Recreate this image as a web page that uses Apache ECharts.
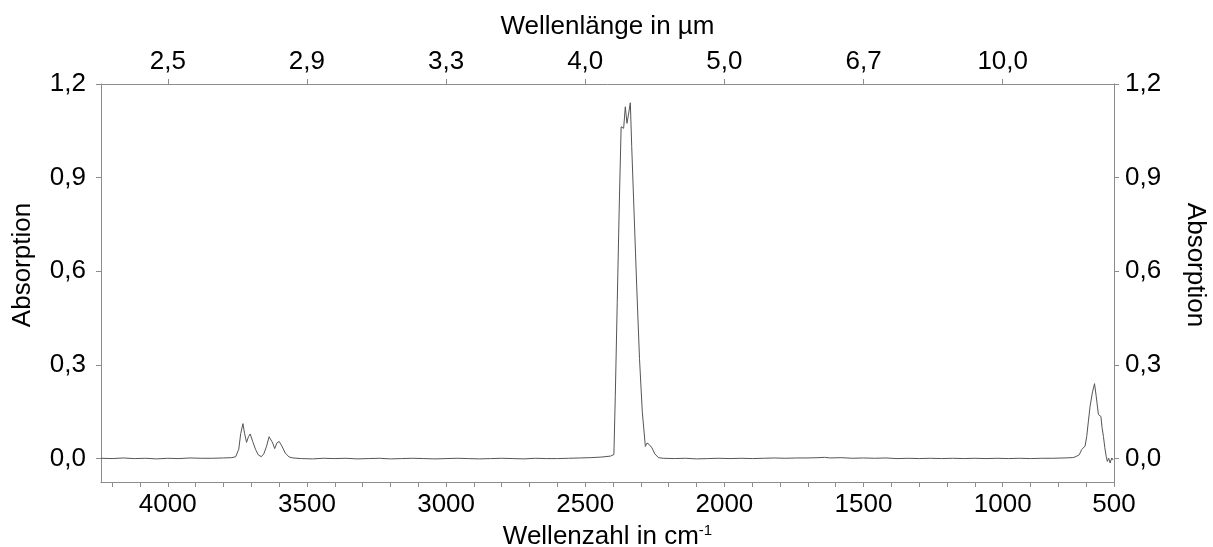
<!DOCTYPE html>
<html>
<head>
<meta charset="utf-8">
<title>Absorptionsspektrum</title>
<script src="https://cdn.jsdelivr.net/npm/echarts@6/dist/echarts.min.js"></script>
<style>
  html, body { margin: 0; padding: 0; background: #fff; }
  #chart { width: 1213px; height: 547px; }
</style>
</head>
<body>
<div id="chart"></div>
<script>
// Wellenzahl (cm-1) und Absorption
const wavenumber = [
  4240, 4200, 4160, 4120, 4080, 4040, 4000, 3960, 3920, 3880, 3840, 3800, 3770,
  3756, 3745, 3738, 3730, 3724, 3717, 3710, 3704, 3695, 3685, 3675, 3664,
  3655, 3645, 3636, 3630, 3623, 3616, 3608, 3600, 3590, 3578, 3564, 3550, 3520,
  3480, 3440, 3400, 3360, 3320, 3280, 3240, 3200, 3160, 3120, 3080, 3040, 3000,
  2960, 2920, 2880, 2840, 2800, 2760, 2720, 2680, 2640, 2600, 2560, 2520, 2480,
  2440, 2409,
  2397, 2392, 2385, 2378, 2371, 2366, 2362, 2356, 2350, 2345, 2338, 2333, 2325,
  2315, 2305, 2295, 2284, 2278, 2270, 2260, 2250, 2237, 2220,
  2180, 2140, 2100, 2060, 2020, 1980, 1940, 1900, 1860, 1820, 1780, 1740, 1700,
  1660, 1640, 1620, 1580, 1540, 1500, 1460, 1420, 1380, 1340, 1300, 1260, 1220,
  1180, 1140, 1100, 1060, 1020, 980, 940, 900, 860, 820, 780, 750,
  740, 725, 716, 710, 704, 698, 692, 686, 678, 670, 664, 656, 647, 643, 638,
  633, 628, 624, 619, 614, 608, 603
];
const absorption = [
  0.001, 0.000, 0.002, 0.000, 0.001, -0.001, 0.001, 0.000, 0.002, 0.001, 0.001, 0.002, 0.003,
  0.006, 0.030, 0.080, 0.112, 0.080, 0.052, 0.070, 0.079, 0.055, 0.030, 0.012, 0.006,
  0.015, 0.040, 0.070, 0.075, 0.050, 0.032, 0.050, 0.055, 0.040, 0.018, 0.005, 0.002, 0.000,
  -0.001, 0.001, 0.000, 0.001, -0.001, 0.000, 0.001, -0.001, 0.000, 0.001, 0.000, -0.001, 0.000,
  0.001, 0.000, -0.001, 0.000, 0.001, 0.000, -0.001, 0.001, 0.000, 0.000, 0.001, 0.002, 0.003,
  0.005, 0.008,
  0.013, 0.200, 0.500, 0.800, 1.063, 1.062, 1.058, 1.127, 1.074, 1.100, 1.140, 1.000, 0.800,
  0.550, 0.320, 0.150, 0.039, 0.050, 0.045, 0.034, 0.015, 0.003, 0.001,
  0.000, 0.001, -0.001, 0.000, 0.001, 0.000, 0.001, 0.000, 0.001, 0.002, 0.001, 0.002, 0.002,
  0.003, 0.004, 0.002, 0.003, 0.001, 0.002, 0.001, 0.002, 0.000, 0.001, 0.000, 0.001, 0.000,
  0.001, 0.000, 0.001, 0.000, 0.001, 0.000, 0.001, 0.000, 0.001, 0.001, 0.002, 0.003,
  0.005, 0.012, 0.029, 0.023, 0.040, 0.071, 0.120, 0.167, 0.210, 0.240, 0.200, 0.141, 0.135, 0.100, 0.071,
  0.035, 0.007, -0.009, 0.001, -0.014, 0.002, -0.005
];

// Achsenbeschriftungen
const bottomTickPos = [4000, 3500, 3000, 2500, 2000, 1500, 1000, 600];
const bottomTickLabels = ["4000", "3500", "3000", "2500", "2000", "1500", "1000", "500"];
const topTickPos = [4000, 3500, 3000, 2500, 2000, 1500, 1000];
const topTickLabels = ["2,5", "2,9", "3,3", "4,0", "5,0", "6,7", "10,0"];
const yTicks = [0, 0.3, 0.6, 0.9, 1.2];

const xMin = 600;
const xMax = 4240;
const yMin = -0.075;
const yMax = 1.2;

const minorTicks = [];
for (let v = 4200; v >= 600; v -= 100) minorTicks.push(v);

const axisColor = "#8c8c8c";
const fontFamily = "'Liberation Sans', Arial, sans-serif";
const fontSize = 26;

const chart = echarts.init(document.getElementById("chart"));

const labelFor = (pos, labels) => (value) => {
  const i = pos.findIndex((p) => Math.abs(p - value) < 1e-6);
  return i >= 0 ? labels[i] : "";
};
const commaFmt = (v) => v.toFixed(1).replace(".", ",");

const textStyle = { color: "#000", fontSize: fontSize, fontFamily: fontFamily };

const option = {
  animation: false,
  backgroundColor: "#fff",
  grid: {
    left: 101,
    right: 99,
    top: 84,
    bottom: 65,
    outerBoundsMode: "none",
  },
  xAxis: [
    {
      type: "value",
      position: "bottom",
      inverse: true,
      min: xMin,
      max: xMax,
      name: "Wellenzahl in cm{sup|-1}",
      nameLocation: "middle",
      nameGap: 36,
      nameTextStyle: {
        ...textStyle,
        rich: {
          sup: { fontSize: 15, verticalAlign: "top", padding: [0, 0, 12, 0], fontFamily: fontFamily, color: "#000" },
        },
      },
      axisLine: { show: true, onZero: false, lineStyle: { color: axisColor, width: 1 } },
      axisTick: {
        show: true,
        inside: false,
        length: 5,
        customValues: minorTicks,
        lineStyle: { color: axisColor },
      },
      axisLabel: {
        ...textStyle,
        customValues: bottomTickPos,
        formatter: labelFor(bottomTickPos, bottomTickLabels),
        margin: 10,
      },
      splitLine: { show: false },
    },
    {
      type: "value",
      position: "top",
      inverse: true,
      min: xMin,
      max: xMax,
      name: "Wellenlänge in µm",
      nameLocation: "middle",
      nameGap: 44,
      nameTextStyle: textStyle,
      axisLine: { show: true, onZero: false, lineStyle: { color: axisColor, width: 1 } },
      axisTick: {
        show: true,
        inside: false,
        length: 5,
        customValues: topTickPos,
        lineStyle: { color: axisColor },
      },
      axisLabel: {
        ...textStyle,
        customValues: topTickPos,
        formatter: labelFor(topTickPos, topTickLabels),
        margin: 9,
      },
      splitLine: { show: false },
    },
  ],
  yAxis: [
    {
      type: "value",
      position: "left",
      min: yMin,
      max: yMax,
      name: "Absorption",
      nameLocation: "middle",
      nameGap: 65,
      nameTextStyle: { ...textStyle, padding: [0, 0, 0, 36] },
      axisLine: { show: true, onZero: false, lineStyle: { color: axisColor, width: 1 } },
      axisTick: { show: true, inside: false, length: 5, customValues: yTicks, lineStyle: { color: axisColor } },
      axisLabel: {
        ...textStyle,
        customValues: yTicks,
        formatter: commaFmt,
        margin: 15,
      },
      splitLine: { show: false },
    },
    {
      type: "value",
      position: "right",
      min: yMin,
      max: yMax,
      name: "Absorption",
      nameLocation: "middle",
      nameGap: 68,
      nameRotate: -90,
      nameTextStyle: { ...textStyle, padding: [0, 36, 0, 0] },
      axisLine: { show: true, onZero: false, lineStyle: { color: axisColor, width: 1 } },
      axisTick: { show: true, inside: false, length: 5, customValues: yTicks, lineStyle: { color: axisColor } },
      axisLabel: {
        ...textStyle,
        customValues: yTicks,
        formatter: commaFmt,
        margin: 11,
      },
      splitLine: { show: false },
    },
  ],
  series: [
    {
      name: "Absorption",
      type: "line",
      xAxisIndex: 0,
      yAxisIndex: 0,
      showSymbol: false,
      data: wavenumber.map((w, i) => [w, absorption[i]]),
      lineStyle: { color: "#555", width: 1 },
    },
  ],
};

chart.setOption(option);
</script>
</body>
</html>
